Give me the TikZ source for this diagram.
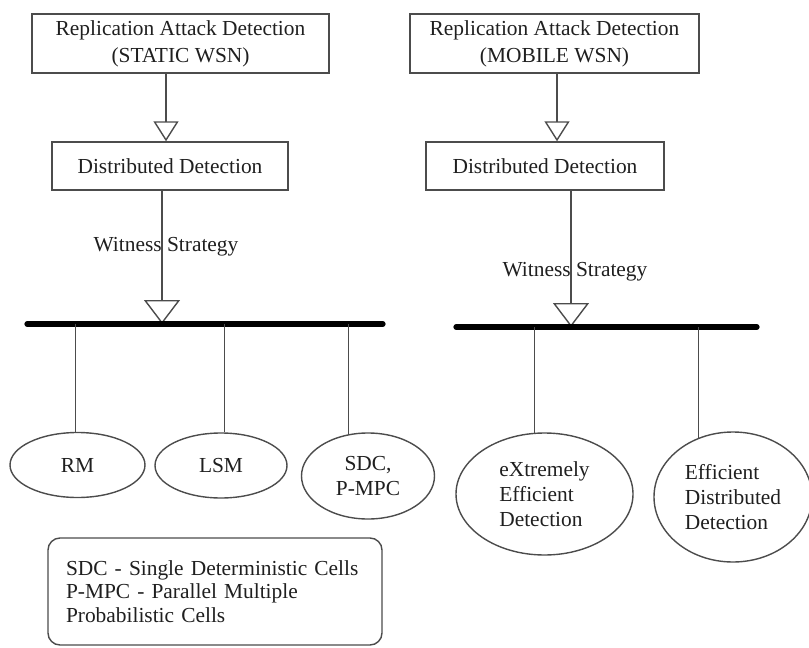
\documentclass[tikz,border=0pt]{standalone}
\usepackage{fontspec}
\setmainfont{Liberation Serif}
\usetikzlibrary{math,arrows.meta,shapes.geometric}
\definecolor{linegray}{rgb}{0.3,0.3,0.3}
\definecolor{textgray}{rgb}{0.12,0.12,0.12}

\begin{document}
\begin{tikzpicture}[x=0.5pt,y=-0.5pt,
  every node/.style={font=\fontsize{10.7}{13.5}\selectfont,text=textgray},
  block/.style={draw=linegray,line width=0.7pt,align=center,inner sep=0pt},
  oval/.style={ellipse,draw=linegray,line width=0.7pt,inner sep=0pt,
    font=\fontsize{10.7}{12.5}\selectfont},
  link/.style={draw=linegray,line width=0.7pt},
  hollow/.style={link,-{Triangle[open,width=12.5pt,length=10pt]}},
  bighollow/.style={link,-{Triangle[open,width=18pt,length=12pt]}},
  bus/.style={line width=2.6pt,line cap=round}]
  \useasboundingbox (0,0) rectangle (809,648);
  \tikzmath{
    real \busL,\busR;
    \busL=324;
    \busR=327;
  }
  % static WSN
  \node[block,minimum width=148.5pt,minimum height=29.5pt] (tl) at (180.5,43.5)
    {Replication Attack Detection\\(STATIC WSN)};
  \node[block,minimum width=118pt,minimum height=24pt] (dl) at (170,166)
    {Distributed Detection};
  \coordinate (sl) at (166,142);
  \coordinate (wl) at (162,\busL);
  \draw[hollow] (tl.south -| sl) -- (dl.north -| sl);
  \draw[bighollow] (dl.south -| wl) -- (wl);
  \node (ws1) at (166,247) {Witness Strategy};

  \coordinate (busl1) at (27,\busL);
  \coordinate (busl2) at (383,\busL);
  \draw[bus] (busl1) -- (busl2);

  \node[oval,minimum width=67.5pt,minimum height=32.5pt] (rm) at (77.5,465) {RM};
  \node[oval,minimum width=66pt,minimum height=32.5pt] (lsm) at (221,465.5) {LSM};
  \node[oval,align=center,minimum width=66.5pt,minimum height=43pt] (sdc) at (368,476)
    {SDC,\\P-MPC};
  \draw[link] (rm.93 |- busl1) -- (rm.93);
  \draw[link] (lsm.84 |- busl1) -- (lsm.84);
  \draw[link] (sdc.115 |- busl1) -- (sdc.115);

  \node[draw=linegray,line width=0.7pt,rounded corners=6pt,align=left,
    text width=149pt,inner xsep=9pt,minimum height=53.5pt,
    font=\fontsize{10.7}{11.8}\selectfont] (lg) at (215,591.5)
    {SDC - Single Deterministic Cells\\P-MPC - Parallel Multiple\\Probabilistic Cells};

  % mobile WSN
  \node[block,minimum width=144.5pt,minimum height=29.5pt] (tr) at (554.5,43.5)
    {Replication Attack Detection\\(MOBILE WSN)};
  \node[block,minimum width=119pt,minimum height=24pt] (dr) at (545,166)
    {Distributed Detection};
  \coordinate (sr) at (557,142);
  \coordinate (wr) at (571,\busR);
  \draw[hollow] (tr.south -| sr) -- (dr.north -| sr);
  \draw[bighollow] (dr.south -| wr) -- (wr);
  \node (ws2) at (575,272) {Witness Strategy};

  \coordinate (busr1) at (456,\busR);
  \coordinate (busr2) at (757,\busR);
  \draw[bus] (busr1) -- (busr2);

  \node[oval,align=left,minimum width=88.5pt,minimum height=61pt] (xed) at (544.5,494)
    {eXtremely\\Efficient\\Detection};
  \node[oval,align=left,minimum width=79pt,minimum height=65pt] (edd) at (733,497)
    {Efficient\\Distributed\\Detection};
  \draw[link] (xed.99 |- busr1) -- (xed.99);
  \draw[link] (edd.120 |- busr1) -- (edd.120);
\end{tikzpicture}
\end{document}
